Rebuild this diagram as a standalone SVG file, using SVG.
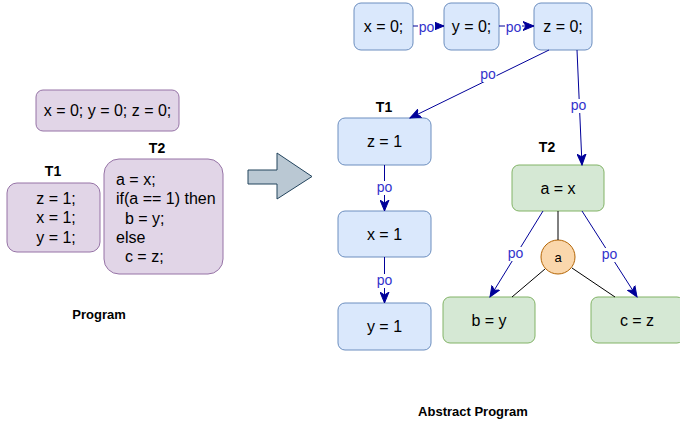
<svg xmlns="http://www.w3.org/2000/svg" width="680" height="423" viewBox="0 0 680 423">
<defs>
<style>
text{font-family:"Liberation Sans",Arial,sans-serif;fill:#000}
.n{font-size:16px;text-anchor:middle;dominant-baseline:central}
.l{font-size:16px}
.b{font-size:14px;font-weight:bold;text-anchor:middle;dominant-baseline:central}
.cap{font-size:13px;font-weight:bold;text-anchor:middle;dominant-baseline:central}
.blue{fill:#dae8fc;stroke:#6c8ebf;stroke-width:1}
.green{fill:#d5e8d4;stroke:#82b366;stroke-width:1}
.purple{fill:#e1d5e7;stroke:#9673a6;stroke-width:1}
.po{stroke:#000099;stroke-width:1;fill:none;marker-end:url(#arr)}
.blk{stroke:#000;stroke-width:1;fill:none}
.lbg{fill:#fff}
.lt{font-size:14px;fill:#3333cc;text-anchor:middle;dominant-baseline:central}
</style>
<marker id="arr" markerUnits="userSpaceOnUse" markerWidth="12" markerHeight="10" viewBox="0 0 12 10" refX="11" refY="5" orient="auto">
<path d="M0,0.5 L11,5 L0,9.5 L3,5 Z" fill="#000099" stroke="#000099" stroke-width="1"/>
</marker>
</defs>

<g id="program-init"><rect class="purple" x="36" y="90" width="143" height="41" rx="7"/><text class="n" x="107.5" y="110.5">x = 0; y = 0; z = 0;</text></g>
<g id="program-t1-label"><text class="b" x="53" y="171">T1</text></g>
<g id="program-t1"><rect class="purple" x="7" y="183" width="93" height="69" rx="10"/>
<text class="n" x="56" y="198">z = 1;</text><text class="n" x="56" y="217">x = 1;</text><text class="n" x="56" y="237">y = 1;</text></g>
<g id="program-t2-label"><text class="b" x="157" y="148">T2</text></g>
<g id="program-t2"><rect class="purple" x="104" y="159" width="119" height="115" rx="15"/>
<text class="l" x="116" y="184.5">a = x;</text>
<text class="l" x="116" y="204">if(a == 1) then</text>
<text class="l" x="116" y="223.5" xml:space="preserve">  b = y;</text>
<text class="l" x="116" y="243">else</text>
<text class="l" x="116" y="262" xml:space="preserve">  c = z;</text></g>
<g id="program-caption"><text class="cap" x="99" y="314">Program</text></g>

<g id="transform-arrow"><path d="M248,170 L277,170 L277,153 L312,176.5 L277,199 L277,184 L248,184 Z" fill="#bac8d3" stroke="#23445d" stroke-width="1"/></g>

<g id="x0"><rect class="blue" x="354" y="3" width="59" height="47" rx="7"/><text class="n" x="383.5" y="26.5">x = 0;</text></g>
<g id="y0"><rect class="blue" x="444" y="3" width="55" height="47" rx="7"/><text class="n" x="471.5" y="26.5">y = 0;</text></g>
<g id="z0"><rect class="blue" x="534" y="3" width="58" height="47" rx="7"/><text class="n" x="563" y="26.5">z = 0;</text></g>

<g id="t1-label"><text class="b" x="384" y="107">T1</text></g>
<g id="z1"><rect class="blue" x="338" y="118" width="93" height="47" rx="7"/><text class="n" x="384.5" y="141.5">z = 1</text></g>
<g id="x1"><rect class="blue" x="338" y="211" width="93" height="46" rx="7"/><text class="n" x="384.5" y="234">x = 1</text></g>
<g id="y1"><rect class="blue" x="338" y="303" width="93" height="47" rx="7"/><text class="n" x="384.5" y="326.5">y = 1</text></g>

<g id="t2-label"><text class="b" x="547" y="147">T2</text></g>
<g id="ax"><rect class="green" x="512" y="165" width="92" height="46" rx="7"/><text class="n" x="558" y="188">a = x</text></g>
<g id="by"><rect class="green" x="443" y="297" width="92" height="46" rx="7"/><text class="n" x="489" y="320">b = y</text></g>
<g id="cz"><rect class="green" x="591" y="297" width="93" height="46" rx="7"/><text class="n" x="637" y="320">c = z</text></g>
<g id="a-cond"><circle cx="558" cy="257" r="17" fill="#fad7ac" stroke="#b46504" stroke-width="1"/><text class="n" x="558" y="257" style="font-size:13px">a</text></g>

<g id="abstract-caption"><text class="cap" x="473" y="411">Abstract Program</text></g>

<g id="connectors">
<line class="blk" x1="558" y1="211" x2="558" y2="240"/>
<line class="blk" x1="545" y1="269" x2="512" y2="297"/>
<line class="blk" x1="572" y1="268" x2="615" y2="297"/>

<line class="po" x1="413" y1="26" x2="444" y2="26"/>
<line class="po" x1="499" y1="26" x2="534" y2="26"/>
<line class="po" x1="549" y1="50" x2="410" y2="118"/>
<line class="po" x1="577" y1="50" x2="582" y2="165"/>
<line class="po" x1="384.5" y1="165" x2="384.5" y2="211"/>
<line class="po" x1="384.5" y1="257" x2="384.5" y2="303"/>
<line class="po" x1="543" y1="211" x2="490" y2="297"/>
<line class="po" x1="582" y1="211" x2="637" y2="297"/>

<rect class="lbg" x="418" y="20" width="17" height="13"/><text class="lt" x="426.5" y="27">po</text>
<rect class="lbg" x="505" y="20" width="17" height="13"/><text class="lt" x="513.5" y="27">po</text>
<rect class="lbg" x="479.5" y="68" width="17" height="14"/><text class="lt" x="488" y="74">po</text>
<rect class="lbg" x="570" y="99" width="17" height="14"/><text class="lt" x="578.5" y="105">po</text>
<rect class="lbg" x="376" y="181" width="17" height="14"/><text class="lt" x="384.5" y="187">po</text>
<rect class="lbg" x="376" y="274" width="17" height="14"/><text class="lt" x="384.5" y="280">po</text>
<rect class="lbg" x="507" y="247" width="17" height="14"/><text class="lt" x="515.5" y="253">po</text>
<rect class="lbg" x="601" y="248" width="17" height="14"/><text class="lt" x="609.5" y="254">po</text>
</g>
</svg>
